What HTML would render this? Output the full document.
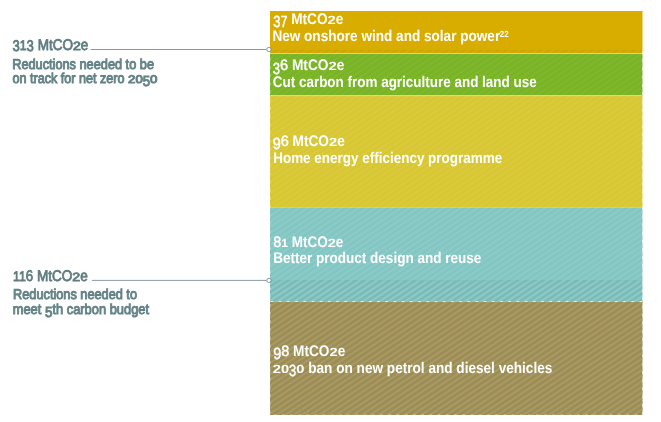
<!DOCTYPE html>
<html>
<head>
<meta charset="utf-8">
<title>Carbon reductions chart</title>
<style>
html,body{margin:0;padding:0;background:#fff;}
body{width:661px;height:422px;overflow:hidden;}
svg{display:block;}
text{font-family:"Liberation Sans",sans-serif;text-rendering:geometricPrecision;}
.w1{fill:#fff;font-weight:bold;font-size:15.4px;}
.w2{fill:#fff;font-weight:bold;font-size:15.4px;}
.n{font-weight:normal;stroke:#fff;stroke-width:0.45px;}
.x{stroke:none;}
.h{fill:#5f7c80;font-size:15.4px;stroke:#5f7c80;stroke-width:0.8px;}
.d{fill:#648387;font-size:14.3px;stroke:#648387;stroke-width:0.95px;}
</style>
</head>
<body>
<svg width="661" height="422" viewBox="0 0 661 422">
<defs>
<pattern id="s1" width="8.5" height="5.65" patternUnits="userSpaceOnUse">
<path d="M-4.250 8.475L12.750 -2.825M-4.250 2.825L4.250 -2.825M4.250 8.475L12.750 2.825" stroke="#fff" stroke-width="2.0" fill="none"/>
</pattern>
<pattern id="s2" width="8.5" height="5.65" patternUnits="userSpaceOnUse" patternTransform="translate(4.25 0)">
<path d="M-4.250 8.475L12.750 -2.825M-4.250 2.825L4.250 -2.825M4.250 8.475L12.750 2.825" stroke="#000" stroke-width="2.5" stroke-opacity="0.065" fill="none"/>
</pattern>
<pattern id="s3" width="8.5" height="5.65" patternUnits="userSpaceOnUse">
<path d="M-4.250 8.475L12.750 -2.825M-4.250 2.825L4.250 -2.825M4.250 8.475L12.750 2.825" stroke="#b09c62" stroke-width="1.6" fill="none"/>
</pattern>
</defs>
<rect x="270" y="11" width="372.5" height="43" fill="#d9ac00"/>
<rect x="270" y="53.4" width="372.5" height="42.6" fill="#79b425"/>
<rect x="270" y="95.6" width="372.5" height="112" fill="#d8c732"/>
<rect x="270" y="207" width="372.5" height="95" fill="#82c6c3"/>
<rect x="270" y="301.4" width="372.5" height="113.6" fill="#9a8d58"/>
<rect x="270" y="49.6" width="372.5" height="3.8" fill="#000" opacity="0.03"/>
<rect x="270" y="49.6" width="372.5" height="3.8" fill="url(#s1)" opacity="0.06"/>
<rect x="270" y="53.4" width="372.5" height="42.2" fill="url(#s1)" opacity="0.045"/>
<rect x="270" y="95.6" width="372.5" height="111.4" fill="url(#s1)" opacity="0.055"/>
<rect x="270" y="207" width="372.5" height="94.4" fill="url(#s1)" opacity="0.085"/>
<rect x="270" y="280.4" width="372.5" height="21" fill="url(#s2)"/>
<rect x="270" y="301.4" width="372.5" height="113.6" fill="url(#s3)"/>
<g stroke="#fff" stroke-width="1">
<path d="M270 53.5H642.5M270 95.6H642.5" stroke-opacity="0.55"/>
<path d="M270 207.5H642.5" stroke-opacity="0.25"/>
<path d="M270 301.5H642.5" stroke-opacity="0.25"/>
<path d="M270.5 301.5H642.5" stroke-opacity="0.7" stroke-dasharray="2.8 5.4"/>
</g>
<path d="M270 49.6V415H642.5V49.6" fill="none" stroke="#fff" stroke-opacity="0.7" stroke-width="0.8" stroke-dasharray="2.8 5.4"/>
<path d="M270 280.9H642.5" stroke="#000" stroke-opacity="0.045" stroke-width="1" stroke-dasharray="5.4 2.8"/>
<g fill="none" stroke="#6c8288" stroke-width="0.8">
<path d="M90.6 49.5H266.7M91.8 280.4H266.7"/>
<circle cx="268.9" cy="49.5" r="2.15" fill="#fff"/>
<circle cx="268.9" cy="280.4" r="2.15" fill="#fff"/>
</g>
<text class="h"><tspan x="12.50" y="51.05" textLength="7.30" lengthAdjust="spacingAndGlyphs">3</tspan><tspan x="19.80" y="49.90" textLength="6.77" lengthAdjust="spacingAndGlyphs" font-size="13.86">1</tspan><tspan x="26.57" y="51.05" textLength="7.30" lengthAdjust="spacingAndGlyphs">3</tspan> <tspan x="37.63" y="49.90" textLength="35.32" lengthAdjust="spacingAndGlyphs">MtCO</tspan><tspan x="72.95" y="49.90" textLength="7.90" lengthAdjust="spacingAndGlyphs" font-size="11.86">2</tspan><tspan x="80.86" y="49.90" textLength="7.52" lengthAdjust="spacingAndGlyphs">e</tspan></text>
<text class="d"><tspan x="12.20" y="68.60" textLength="141.80" lengthAdjust="spacingAndGlyphs">Reductions needed to be</tspan></text>
<text class="d"><tspan x="12.46" y="83.40" textLength="112.10" lengthAdjust="spacingAndGlyphs">on track for net zero</tspan> <tspan x="128.06" y="83.40" textLength="14.72" lengthAdjust="spacingAndGlyphs" font-size="11.01">20</tspan><tspan x="142.78" y="86.26" textLength="7.36" lengthAdjust="spacingAndGlyphs" font-size="14.73">5</tspan><tspan x="150.14" y="83.40" textLength="7.36" lengthAdjust="spacingAndGlyphs" font-size="11.01">0</tspan></text>
<text class="h"><tspan x="13.08" y="280.50" textLength="12.69" lengthAdjust="spacingAndGlyphs" font-size="13.86">11</tspan><tspan x="25.77" y="280.50" textLength="7.33" lengthAdjust="spacingAndGlyphs">6</tspan> <tspan x="36.88" y="280.50" textLength="35.47" lengthAdjust="spacingAndGlyphs">MtCO</tspan><tspan x="72.35" y="280.50" textLength="7.93" lengthAdjust="spacingAndGlyphs" font-size="11.86">2</tspan><tspan x="80.28" y="280.50" textLength="7.56" lengthAdjust="spacingAndGlyphs">e</tspan></text>
<text class="d"><tspan x="13.08" y="299.20" textLength="123.92" lengthAdjust="spacingAndGlyphs">Reductions needed to</tspan></text>
<text class="d"><tspan x="12.70" y="314.00" textLength="28.62" lengthAdjust="spacingAndGlyphs">meet</tspan> <tspan x="44.90" y="316.86" textLength="7.52" lengthAdjust="spacingAndGlyphs" font-size="14.73">5</tspan><tspan x="52.41" y="314.00" textLength="96.63" lengthAdjust="spacingAndGlyphs">th carbon budget</tspan></text>
<text class="w1"><tspan x="273.24" y="27.41" textLength="7.20" lengthAdjust="spacingAndGlyphs" font-size="16.17" class="n">3</tspan><tspan x="280.44" y="27.41" textLength="6.98" lengthAdjust="spacingAndGlyphs" font-size="16.17" class="n">7</tspan> <tspan x="291.21" y="24.10" textLength="36.35" lengthAdjust="spacingAndGlyphs">MtCO</tspan><tspan x="327.57" y="24.10" textLength="8.19" lengthAdjust="spacingAndGlyphs" font-size="11.86" class="x">2</tspan><tspan x="335.76" y="24.10" textLength="7.58" lengthAdjust="spacingAndGlyphs">e</tspan></text>
<text class="w2"><tspan x="272.40" y="40.80" textLength="227.82" lengthAdjust="spacingAndGlyphs">New onshore wind and solar power</tspan><tspan font-size="8.8" x="499.8" y="37.3" textLength="8.8" lengthAdjust="spacingAndGlyphs">22</tspan></text>
<text class="w1"><tspan x="272.78" y="73.61" textLength="7.25" lengthAdjust="spacingAndGlyphs" font-size="16.17" class="n">3</tspan><tspan x="280.03" y="70.30" textLength="8.08" lengthAdjust="spacingAndGlyphs" font-size="14.94" class="n">6</tspan> <tspan x="291.92" y="70.30" textLength="36.56" lengthAdjust="spacingAndGlyphs">MtCO</tspan><tspan x="328.48" y="70.30" textLength="8.24" lengthAdjust="spacingAndGlyphs" font-size="11.86" class="x">2</tspan><tspan x="336.71" y="70.30" textLength="7.63" lengthAdjust="spacingAndGlyphs">e</tspan></text>
<text class="w2"><tspan x="272.78" y="86.80" textLength="263.94" lengthAdjust="spacingAndGlyphs">Cut carbon from agriculture and land use</tspan></text>
<text class="w1"><tspan x="272.66" y="148.75" textLength="8.06" lengthAdjust="spacingAndGlyphs" font-size="16.17" class="n">9</tspan><tspan x="280.72" y="145.90" textLength="8.06" lengthAdjust="spacingAndGlyphs" font-size="14.94" class="n">6</tspan> <tspan x="292.57" y="145.90" textLength="36.43" lengthAdjust="spacingAndGlyphs">MtCO</tspan><tspan x="328.99" y="145.90" textLength="8.21" lengthAdjust="spacingAndGlyphs" font-size="11.86" class="x">2</tspan><tspan x="337.20" y="145.90" textLength="7.60" lengthAdjust="spacingAndGlyphs">e</tspan></text>
<text class="w2"><tspan x="273.20" y="162.60" textLength="229.02" lengthAdjust="spacingAndGlyphs">Home energy efficiency programme</tspan></text>
<text class="w1"><tspan x="273.20" y="246.70" textLength="7.97" lengthAdjust="spacingAndGlyphs" font-size="14.94" class="n">8</tspan><tspan x="281.17" y="246.70" textLength="6.76" lengthAdjust="spacingAndGlyphs" font-size="11.86" class="x">1</tspan> <tspan x="291.68" y="246.70" textLength="36.02" lengthAdjust="spacingAndGlyphs">MtCO</tspan><tspan x="327.71" y="246.70" textLength="8.12" lengthAdjust="spacingAndGlyphs" font-size="11.86" class="x">2</tspan><tspan x="335.82" y="246.70" textLength="7.52" lengthAdjust="spacingAndGlyphs">e</tspan></text>
<text class="w2"><tspan x="273.20" y="263.40" textLength="208.10" lengthAdjust="spacingAndGlyphs">Better product design and reuse</tspan></text>
<text class="w1"><tspan x="273.16" y="358.95" textLength="8.05" lengthAdjust="spacingAndGlyphs" font-size="16.17" class="n">9</tspan><tspan x="281.21" y="356.10" textLength="8.05" lengthAdjust="spacingAndGlyphs" font-size="14.94" class="n">8</tspan> <tspan x="293.06" y="356.10" textLength="36.41" lengthAdjust="spacingAndGlyphs">MtCO</tspan><tspan x="329.46" y="356.10" textLength="8.20" lengthAdjust="spacingAndGlyphs" font-size="11.86" class="x">2</tspan><tspan x="337.67" y="356.10" textLength="7.59" lengthAdjust="spacingAndGlyphs">e</tspan></text>
<text class="w2"><tspan x="272.78" y="372.70" textLength="16.34" lengthAdjust="spacingAndGlyphs" font-size="11.86" class="x">20</tspan><tspan x="289.12" y="376.01" textLength="7.19" lengthAdjust="spacingAndGlyphs" font-size="16.17" class="n">3</tspan><tspan x="296.30" y="372.70" textLength="8.17" lengthAdjust="spacingAndGlyphs" font-size="11.86" class="x">0</tspan> <tspan x="308.25" y="372.70" textLength="244.09" lengthAdjust="spacingAndGlyphs">ban on new petrol and diesel vehicles</tspan></text>
</svg>
</body>
</html>
